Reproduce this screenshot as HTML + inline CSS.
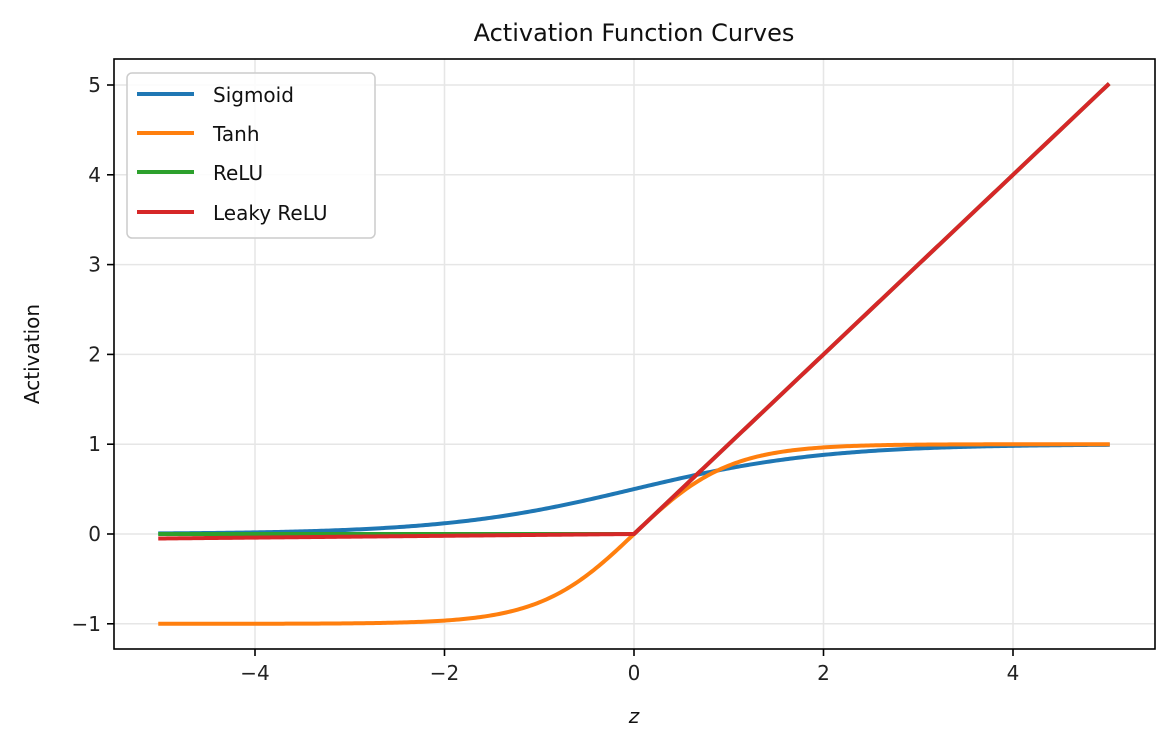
<!DOCTYPE html>
<html><head><meta charset="utf-8"><style>
html,body{margin:0;padding:0;background:#fff;}
svg{display:block;font-family:"DejaVu Sans","Liberation Sans",sans-serif;}
</style></head><body>
<svg id="s" width="1174" height="751" viewBox="0 0 1174 751" xmlns="http://www.w3.org/2000/svg">
<rect width="1174" height="751" fill="#fff"/>
<g id="grid" stroke="#e6e6e6" stroke-width="1.5"></g>
<g id="curves" fill="none" stroke-width="4" stroke-linejoin="round" stroke-linecap="square"></g>
<rect x="114" y="59" width="1041" height="590" fill="none" stroke="#000" stroke-width="1.6"/>
<g id="ticks" stroke="#000" stroke-width="1.6"></g>
<g id="labels" font-size="20" fill="#222"></g>
<text x="634" y="41" font-size="24" text-anchor="middle" fill="#111">Activation Function Curves</text>
<text x="634" y="723" font-size="20" font-style="italic" text-anchor="middle" fill="#111">z</text>
<text transform="translate(39,354) rotate(-90)" font-size="20" text-anchor="middle" fill="#111">Activation</text>
<g>
<rect x="127" y="73" width="248" height="165" rx="5" fill="#fff" fill-opacity="0.85" stroke="#cccccc" stroke-width="1.5"/>
<line x1="137" y1="94" x2="194" y2="94" stroke="#1f77b4" stroke-width="4"/>
<line x1="137" y1="133" x2="194" y2="133" stroke="#ff7f0e" stroke-width="4"/>
<line x1="137" y1="172" x2="194" y2="172" stroke="#2ca02c" stroke-width="4"/>
<line x1="137" y1="212" x2="194" y2="212" stroke="#d62728" stroke-width="4"/>
<text x="213" y="102" font-size="20" fill="#111">Sigmoid</text>
<text x="213" y="141" font-size="20" fill="#111">Tanh</text>
<text x="213" y="180" font-size="20" fill="#111">ReLU</text>
<text x="213" y="220" font-size="20" fill="#111">Leaky ReLU</text>
</g>
</svg>
<script>
var NS="http://www.w3.org/2000/svg";
function X(v){return 634+v*94.75;}
function Y(v){return 534-v*89.8;}
function el(p,t,a,txt){var e=document.createElementNS(NS,t);for(var k in a)e.setAttribute(k,a[k]);if(txt!==undefined)e.textContent=txt;p.appendChild(e);return e;}
var g=document.getElementById('grid'),tk=document.getElementById('ticks'),lb=document.getElementById('labels'),cv=document.getElementById('curves');
[-4,-2,0,2,4].forEach(function(v){var x=X(v);el(g,'line',{x1:x,y1:59,x2:x,y2:649});el(tk,'line',{x1:x,y1:649,x2:x,y2:656});
el(lb,'text',{x:x,y:680,'text-anchor':'middle'},v<0?'\u2212'+(-v):''+v);});
[-1,0,1,2,3,4,5].forEach(function(v){var y=Y(v);el(g,'line',{x1:114,y1:y,x2:1155,y2:y});el(tk,'line',{x1:107,y1:y,x2:114,y2:y});
el(lb,'text',{x:101,y:y+7,'text-anchor':'end'},v<0?'\u2212'+(-v):''+v);});
function path(f,c){var d='';for(var i=0;i<=400;i++){var z=-5+i*10/400;d+=(i?'L':'M')+X(z).toFixed(2)+','+Y(f(z)).toFixed(2);}el(cv,'path',{d:d,stroke:c});}
path(function(z){return 1/(1+Math.exp(-z));},'#1f77b4');
path(function(z){return Math.tanh(z);},'#ff7f0e');
path(function(z){return Math.max(0,z);},'#2ca02c');
path(function(z){return z>0?z:0.01*z;},'#d62728');
</script>
</body></html>
